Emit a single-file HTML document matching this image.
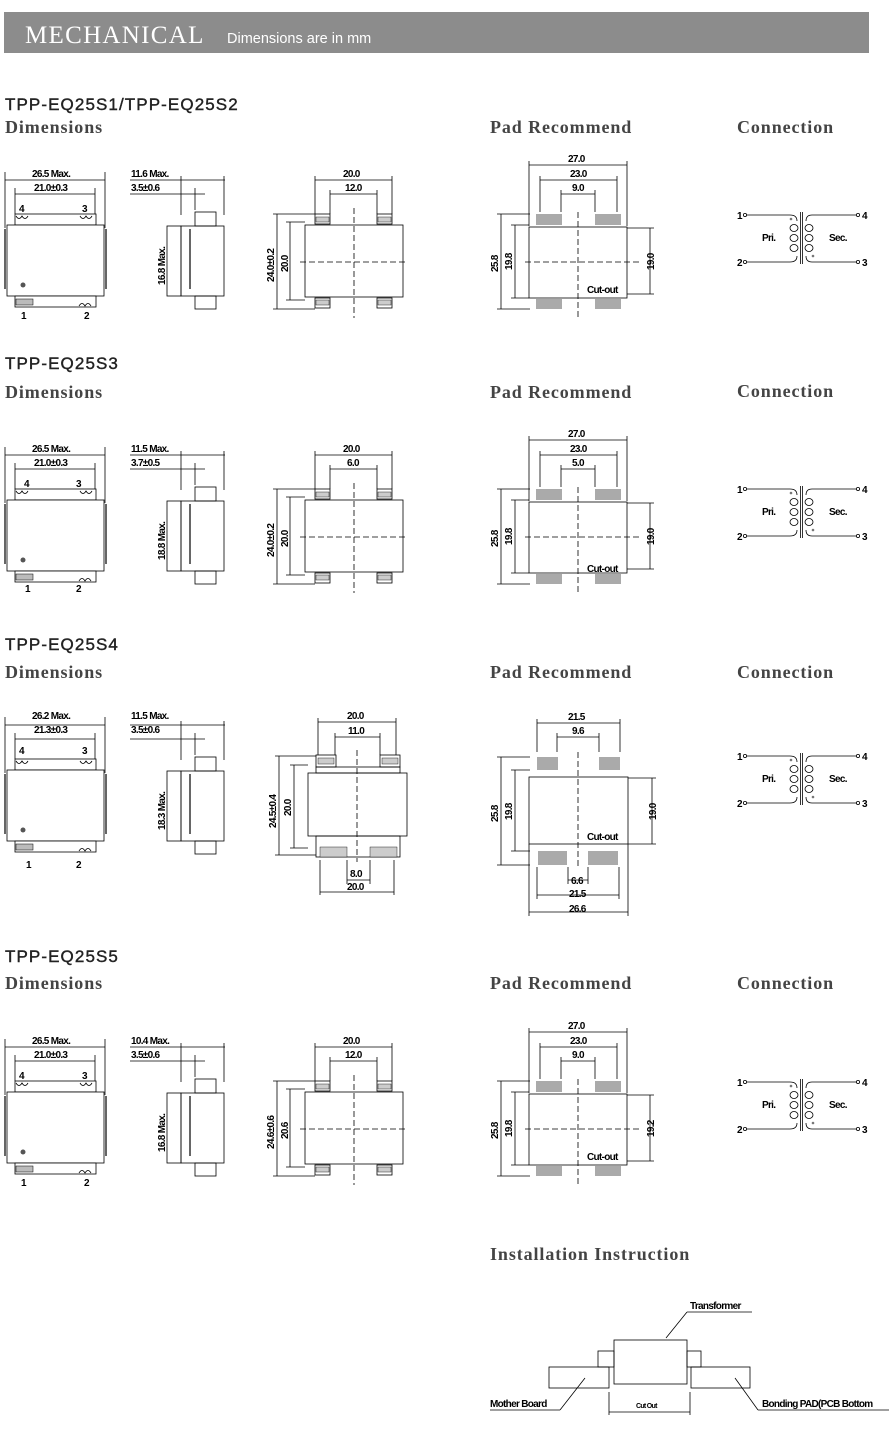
<!DOCTYPE html>
<html><head><meta charset="utf-8"><style>
html,body{margin:0;padding:0;background:#fff;}
svg{display:block;}
.t{font-family:"Liberation Sans",sans-serif;font-size:10px;font-weight:bold;letter-spacing:-0.7px;fill:#000;}
.h{font-family:"Liberation Sans",sans-serif;font-size:17px;letter-spacing:1.1px;fill:#222;stroke:#222;stroke-width:0.4px;}
.s{font-family:"Liberation Serif",serif;font-weight:bold;font-size:18px;letter-spacing:0.9px;fill:#444;}
</style></head><body>
<svg width="889" height="1431" viewBox="0 0 889 1431" xmlns="http://www.w3.org/2000/svg">
<defs>
<g id="dF" fill="none" stroke="#000" stroke-width="0.8">
  <line x1="5" y1="172" x2="5" y2="228"/><line x1="105" y1="172" x2="105" y2="228"/>
  <line x1="15" y1="188" x2="15" y2="214"/><line x1="95" y1="188" x2="95" y2="214"/>
  <line x1="5" y1="180" x2="105" y2="180"/><line x1="15" y1="194" x2="95" y2="194"/>
  <rect x="15" y="214" width="81" height="11" fill="#fff"/>
  <path d="M16 216 q3 5 6 0 q3 5 6 0 M80 216 q3 5 6 0 q3 5 6 0"/>
  <rect x="7" y="225" width="97" height="71" fill="#fff"/>
  <rect x="4" y="229" width="2" height="60" fill="#666" stroke="none"/>
  <rect x="105" y="229" width="2" height="60" fill="#666" stroke="none"/>
  <circle cx="23" cy="285" r="2.5" fill="#555" stroke="none"/>
  <rect x="15" y="296" width="81" height="11" fill="#fff"/>
  <rect x="16" y="299" width="17" height="6" fill="#bbb" stroke-width="0.5"/>
  <path d="M79 306 q3 -5 6 0 q3 -5 6 0"/>
  <line x1="181" y1="176" x2="181" y2="215"/><line x1="224" y1="176" x2="224" y2="215"/>
  <line x1="195" y1="188" x2="195" y2="210"/>
  <line x1="130" y1="180" x2="225" y2="180"/><line x1="130" y1="194" x2="205" y2="194"/>
  <rect x="167" y="226" width="14" height="70"/><rect x="181" y="226" width="43" height="70"/>
  <rect x="195" y="212" width="21" height="14"/><rect x="195" y="296" width="21" height="13"/>
  <rect x="189" y="229" width="2" height="60" fill="#666" stroke="none"/>
</g>
<g id="dT" fill="none" stroke="#000" stroke-width="0.8">
  <line x1="315" y1="176" x2="315" y2="214"/><line x1="392" y1="176" x2="392" y2="214"/>
  <line x1="330" y1="190" x2="330" y2="214"/><line x1="377" y1="190" x2="377" y2="214"/>
  <line x1="315" y1="180" x2="392" y2="180"/><line x1="330" y1="194" x2="377" y2="194"/>
  <rect x="315" y="214" width="15" height="10"/><rect x="377" y="214" width="15" height="10"/>
  <rect x="316" y="217" width="13" height="5" fill="#ccc" stroke-width="0.4"/>
  <rect x="378" y="217" width="13" height="5" fill="#ccc" stroke-width="0.4"/>
  <rect x="305" y="225" width="98" height="72"/>
  <rect x="315" y="298" width="15" height="10"/><rect x="377" y="298" width="15" height="10"/>
  <rect x="316" y="300" width="13" height="5" fill="#ccc" stroke-width="0.4"/>
  <rect x="378" y="300" width="13" height="5" fill="#ccc" stroke-width="0.4"/>
  <line x1="277" y1="214" x2="277" y2="309"/><line x1="273" y1="214" x2="315" y2="214"/><line x1="273" y1="309" x2="315" y2="309"/>
  <line x1="290" y1="222" x2="290" y2="300"/><line x1="286" y1="222" x2="305" y2="222"/><line x1="286" y1="300" x2="305" y2="300"/>
  <line x1="300" y1="262" x2="408" y2="262" stroke-dasharray="6,3"/>
  <line x1="354" y1="208" x2="354" y2="318" stroke-dasharray="6,3"/>
</g>
<g id="pA" fill="none" stroke="#000" stroke-width="0.8">
  <line x1="529" y1="161" x2="529" y2="226"/><line x1="627" y1="161" x2="627" y2="226"/>
  <line x1="540" y1="176" x2="540" y2="212"/><line x1="617" y1="176" x2="617" y2="212"/>
  <line x1="561" y1="190" x2="561" y2="212"/><line x1="595" y1="190" x2="595" y2="212"/>
  <line x1="529" y1="165" x2="627" y2="165"/><line x1="540" y1="180" x2="617" y2="180"/><line x1="561" y1="194" x2="595" y2="194"/>
  <rect x="536" y="214" width="26" height="11" fill="#aaa" stroke="none"/>
  <rect x="595" y="214" width="26" height="11" fill="#aaa" stroke="none"/>
  <rect x="529" y="227" width="98" height="71"/>
  <rect x="536" y="299" width="26" height="10" fill="#aaa" stroke="none"/>
  <rect x="595" y="299" width="26" height="10" fill="#aaa" stroke="none"/>
  <line x1="501" y1="214" x2="501" y2="309"/><line x1="497" y1="214" x2="530" y2="214"/><line x1="497" y1="309" x2="530" y2="309"/>
  <line x1="515" y1="225" x2="515" y2="298"/><line x1="511" y1="225" x2="529" y2="225"/><line x1="511" y1="298" x2="529" y2="298"/>
  <line x1="650" y1="228" x2="650" y2="294"/><line x1="627" y1="228" x2="654" y2="228"/><line x1="627" y1="294" x2="654" y2="294"/>
  <line x1="525" y1="262" x2="640" y2="262" stroke-dasharray="6,3"/>
  <line x1="578" y1="212" x2="578" y2="318" stroke-dasharray="6,3"/>
</g>
<g id="cA" fill="none" stroke="#000" stroke-width="0.8">
  <circle cx="745" cy="215" r="1.6"/><circle cx="745" cy="262" r="1.6"/>
  <circle cx="858" cy="215" r="1.6"/><circle cx="858" cy="262" r="1.6"/>
  <path d="M747 215 H790 Q797 215 797 221 M747 262 H790 Q797 262 797 256"/>
  <path d="M856 215 H812 Q806 215 806 221 M856 262 H812 Q806 262 806 256"/>
  <ellipse cx="794" cy="228" rx="4" ry="3.5"/><ellipse cx="794" cy="238" rx="4" ry="3.5"/><ellipse cx="794" cy="248" rx="4" ry="3.5"/>
  <ellipse cx="809" cy="228" rx="4" ry="3.5"/><ellipse cx="809" cy="238" rx="4" ry="3.5"/><ellipse cx="809" cy="248" rx="4" ry="3.5"/>
  <line x1="800.5" y1="212" x2="800.5" y2="264"/><line x1="802.5" y1="212" x2="802.5" y2="264"/>
  <circle cx="791" cy="219" r="1.3" fill="#777" stroke="none"/><circle cx="813" cy="256" r="1.3" fill="#777" stroke="none"/>
</g>
</defs>

<rect x="4" y="12" width="865" height="41" fill="#8c8c8c"/>
<text x="25" y="43" font-family="Liberation Serif,serif" font-size="25" letter-spacing="1.3" fill="#fff">MECHANICAL</text>
<text x="227" y="43" font-family="Liberation Sans,sans-serif" font-size="14.5" fill="#fff">Dimensions are in mm</text>

<!-- Section 1 -->
<text x="5" y="110" class="h">TPP-EQ25S1/TPP-EQ25S2</text>
<text x="5" y="133" class="s">Dimensions</text><text x="490" y="133" class="s">Pad Recommend</text><text x="737" y="133" class="s">Connection</text>
<use href="#dF"/><use href="#dT"/><use href="#pA"/><use href="#cA"/>
<g class="t">
<text x="32" y="177">26.5 Max.</text><text x="34" y="191">21.0±0.3</text>
<text x="19" y="212">4</text><text x="82" y="212">3</text><text x="21" y="319">1</text><text x="84" y="319">2</text>
<text x="131" y="177">11.6 Max.</text><text x="131" y="191">3.5±0.6</text>
<text transform="translate(165,285) rotate(-90)">16.8 Max.</text>
<text x="343" y="177">20.0</text><text x="345" y="191">12.0</text>
<text transform="translate(274,282) rotate(-90)">24.0±0.2</text><text transform="translate(288,272) rotate(-90)">20.0</text>
<text x="568" y="162">27.0</text><text x="570" y="177">23.0</text><text x="572" y="191">9.0</text>
<text transform="translate(498,272) rotate(-90)">25.8</text><text transform="translate(512,270) rotate(-90)">19.8</text>
<text transform="translate(654,270) rotate(-90)">19.0</text><text x="587" y="293">Cut-out</text>
<text x="737" y="219">1</text><text x="737" y="266">2</text><text x="862" y="219">4</text><text x="862" y="266">3</text>
<text x="762" y="241">Pri.</text><text x="829" y="241">Sec.</text>
</g>

<!-- Section S3 -->
<text x="5" y="369" class="h">TPP-EQ25S3</text>
<text x="5" y="398" class="s">Dimensions</text><text x="490" y="398" class="s">Pad Recommend</text><text x="737" y="397" class="s">Connection</text>
<g transform="translate(0,275)"><use href="#dF"/><use href="#dT"/><use href="#pA"/></g>
<use href="#cA" y="274"/>
<g class="t">
<text x="32" y="452">26.5 Max.</text><text x="34" y="466">21.0±0.3</text>
<text x="24" y="487">4</text><text x="76" y="487">3</text><text x="25" y="592">1</text><text x="76" y="592">2</text>
<text x="131" y="452">11.5 Max.</text><text x="131" y="466">3.7±0.5</text>
<text transform="translate(165,560) rotate(-90)">18.8 Max.</text>
<text x="343" y="452">20.0</text><text x="347" y="466">6.0</text>
<text transform="translate(274,557) rotate(-90)">24.0±0.2</text><text transform="translate(288,547) rotate(-90)">20.0</text>
<text x="568" y="437">27.0</text><text x="570" y="452">23.0</text><text x="572" y="466">5.0</text>
<text transform="translate(498,547) rotate(-90)">25.8</text><text transform="translate(512,545) rotate(-90)">19.8</text>
<text transform="translate(654,545) rotate(-90)">19.0</text><text x="587" y="572">Cut-out</text>
<text x="737" y="493">1</text><text x="737" y="540">2</text><text x="862" y="493">4</text><text x="862" y="540">3</text>
<text x="762" y="515">Pri.</text><text x="829" y="515">Sec.</text>
</g>

<!-- Section S4 -->
<text x="5" y="650" class="h">TPP-EQ25S4</text>
<text x="5" y="678" class="s">Dimensions</text><text x="490" y="678" class="s">Pad Recommend</text><text x="737" y="678" class="s">Connection</text>
<use href="#dF" y="545"/><use href="#cA" y="541"/>
<g fill="none" stroke="#000" stroke-width="0.8">
  <line x1="318" y1="718" x2="318" y2="755"/><line x1="396" y1="718" x2="396" y2="755"/>
  <line x1="335" y1="733" x2="335" y2="755"/><line x1="380" y1="733" x2="380" y2="755"/>
  <line x1="318" y1="722" x2="396" y2="722"/><line x1="335" y1="737" x2="380" y2="737"/>
  <rect x="316" y="755" width="20" height="12"/><rect x="380" y="755" width="20" height="12"/>
  <rect x="318" y="758" width="16" height="6" fill="#ccc" stroke-width="0.4"/><rect x="382" y="758" width="16" height="6" fill="#ccc" stroke-width="0.4"/>
  <rect x="316" y="767" width="84" height="6"/>
  <rect x="308" y="773" width="99" height="63"/>
  <rect x="316" y="836" width="84" height="21"/>
  <rect x="320" y="847" width="27" height="10" fill="#ccc" stroke-width="0.4"/><rect x="370" y="847" width="27" height="10" fill="#ccc" stroke-width="0.4"/>
  <line x1="320" y1="860" x2="320" y2="895"/><line x1="394" y1="860" x2="394" y2="895"/>
  <line x1="347" y1="860" x2="347" y2="884"/><line x1="370" y1="860" x2="370" y2="884"/>
  <line x1="347" y1="880" x2="370" y2="880"/><line x1="320" y1="892" x2="394" y2="892"/>
  <line x1="279" y1="756" x2="279" y2="855"/><line x1="275" y1="756" x2="316" y2="756"/><line x1="275" y1="855" x2="316" y2="855"/>
  <line x1="294" y1="765" x2="294" y2="848"/><line x1="290" y1="765" x2="308" y2="765"/><line x1="290" y1="848" x2="308" y2="848"/>
  <line x1="357" y1="750" x2="357" y2="862" stroke-dasharray="6,3"/>
  <line x1="537" y1="719" x2="537" y2="752"/><line x1="620" y1="719" x2="620" y2="752"/>
  <line x1="557" y1="733" x2="557" y2="752"/><line x1="599" y1="733" x2="599" y2="752"/>
  <line x1="537" y1="723" x2="620" y2="723"/><line x1="557" y1="737" x2="599" y2="737"/>
  <rect x="537" y="757" width="21" height="13" fill="#aaa" stroke="none"/><rect x="599" y="757" width="21" height="13" fill="#aaa" stroke="none"/>
  <rect x="529" y="777" width="99" height="67"/>
  <rect x="538" y="851" width="29" height="14" fill="#aaa" stroke="none"/><rect x="588" y="851" width="30" height="14" fill="#aaa" stroke="none"/>
  <line x1="529" y1="844" x2="529" y2="916"/><line x1="628" y1="844" x2="628" y2="916"/>
  <line x1="537" y1="867" x2="537" y2="899"/><line x1="619" y1="867" x2="619" y2="899"/>
  <line x1="568" y1="867" x2="568" y2="884"/><line x1="588" y1="867" x2="588" y2="884"/>
  <line x1="568" y1="880" x2="588" y2="880"/><line x1="537" y1="895" x2="619" y2="895"/><line x1="529" y1="912" x2="628" y2="912"/>
  <line x1="501" y1="757" x2="501" y2="865"/><line x1="497" y1="757" x2="530" y2="757"/><line x1="497" y1="865" x2="530" y2="865"/>
  <line x1="515" y1="770" x2="515" y2="851"/><line x1="511" y1="770" x2="530" y2="770"/><line x1="511" y1="851" x2="530" y2="851"/>
  <line x1="652" y1="778" x2="652" y2="844"/><line x1="628" y1="778" x2="656" y2="778"/><line x1="628" y1="844" x2="656" y2="844"/>
  <line x1="578" y1="752" x2="578" y2="868" stroke-dasharray="6,3"/>
</g>
<g class="t">
<text x="32" y="719">26.2 Max.</text><text x="34" y="733">21.3±0.3</text>
<text x="19" y="754">4</text><text x="82" y="754">3</text><text x="26" y="868">1</text><text x="76" y="868">2</text>
<text x="131" y="719">11.5 Max.</text><text x="131" y="733">3.5±0.6</text>
<text transform="translate(165,830) rotate(-90)">18.3 Max.</text>
<text x="347" y="719">20.0</text><text x="348" y="734">11.0</text>
<text x="350" y="877">8.0</text><text x="347" y="890">20.0</text>
<text transform="translate(276,828) rotate(-90)">24.5±0.4</text><text transform="translate(291,816) rotate(-90)">20.0</text>
<text x="568" y="720">21.5</text><text x="572" y="734">9.6</text>
<text x="571" y="884">6.6</text><text x="569" y="897">21.5</text><text x="569" y="912">26.6</text>
<text transform="translate(498,822) rotate(-90)">25.8</text><text transform="translate(512,820) rotate(-90)">19.8</text>
<text transform="translate(656,820) rotate(-90)">19.0</text><text x="587" y="840">Cut-out</text>
<text x="737" y="760">1</text><text x="737" y="807">2</text><text x="862" y="760">4</text><text x="862" y="807">3</text>
<text x="762" y="782">Pri.</text><text x="829" y="782">Sec.</text>
</g>

<!-- Section S5 -->
<text x="5" y="962" class="h">TPP-EQ25S5</text>
<text x="5" y="989" class="s">Dimensions</text><text x="490" y="989" class="s">Pad Recommend</text><text x="737" y="989" class="s">Connection</text>
<g transform="translate(0,867)"><use href="#dF"/><use href="#dT"/><use href="#pA"/><use href="#cA"/></g>
<g class="t">
<text x="32" y="1044">26.5 Max.</text><text x="34" y="1058">21.0±0.3</text>
<text x="19" y="1079">4</text><text x="82" y="1079">3</text><text x="21" y="1186">1</text><text x="84" y="1186">2</text>
<text x="131" y="1044">10.4 Max.</text><text x="131" y="1058">3.5±0.6</text>
<text transform="translate(165,1152) rotate(-90)">16.8 Max.</text>
<text x="343" y="1044">20.0</text><text x="345" y="1058">12.0</text>
<text transform="translate(274,1149) rotate(-90)">24.6±0.6</text><text transform="translate(288,1139) rotate(-90)">20.6</text>
<text x="568" y="1029">27.0</text><text x="570" y="1044">23.0</text><text x="572" y="1058">9.0</text>
<text transform="translate(498,1139) rotate(-90)">25.8</text><text transform="translate(512,1137) rotate(-90)">19.8</text>
<text transform="translate(654,1137) rotate(-90)">19.2</text><text x="587" y="1160">Cut-out</text>
<text x="737" y="1086">1</text><text x="737" y="1133">2</text><text x="862" y="1086">4</text><text x="862" y="1133">3</text>
<text x="762" y="1108">Pri.</text><text x="829" y="1108">Sec.</text>
</g>

<!-- Installation -->
<text x="490" y="1260" class="s">Installation Instruction</text>
<g fill="none" stroke="#000" stroke-width="0.8">
  <rect x="614" y="1340" width="73" height="44"/>
  <rect x="598" y="1351" width="16" height="16"/><rect x="687" y="1351" width="14" height="16"/>
  <rect x="549" y="1367" width="60" height="21"/><rect x="691" y="1367" width="59" height="21"/>
  <line x1="609" y1="1392" x2="609" y2="1415"/><line x1="690" y1="1392" x2="690" y2="1415"/>
  <line x1="609" y1="1412" x2="690" y2="1412"/>
  <line x1="687" y1="1312" x2="752" y2="1312"/><line x1="687" y1="1312" x2="666" y2="1338"/>
  <line x1="490" y1="1410" x2="560" y2="1410"/><line x1="560" y1="1410" x2="585" y2="1378"/>
  <line x1="758" y1="1410" x2="889" y2="1410"/><line x1="758" y1="1410" x2="735" y2="1378"/>
</g>
<g class="t">
<text x="690" y="1309">Transformer</text>
<text x="490" y="1407">Mother Board</text>
<text x="762" y="1407">Bonding PAD(PCB Bottom</text>
<text x="636" y="1408" style="font-size:7px">Cut Out</text>
</g>
</svg>
</body></html>
